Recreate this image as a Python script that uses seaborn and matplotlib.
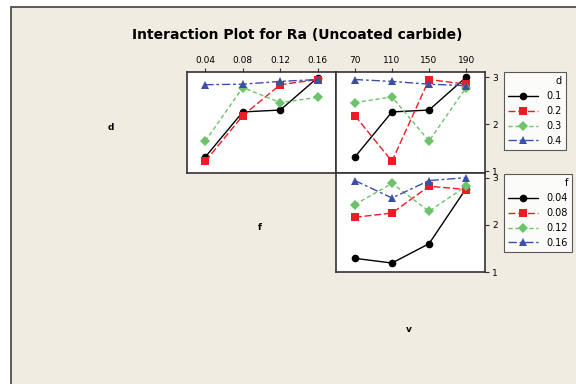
import pandas as pd
import seaborn as sns
import matplotlib.pyplot as plt
from matplotlib.patches import Rectangle

# levels of the factors
d_levels = ['0.1', '0.2', '0.3', '0.4']
f_levels = [0.04, 0.08, 0.12, 0.16]
v_levels = [70, 110, 150, 190]
f_names = ['0.04', '0.08', '0.12', '0.16']

# mean Ra, d (rows) vs f (columns)
ra_d_f = [[1.30, 2.26, 2.30, 2.99],
          [1.21, 2.18, 2.84, 2.95],
          [1.64, 2.78, 2.46, 2.57],
          [2.84, 2.85, 2.91, 2.95]]
# mean Ra, d (rows) vs v (columns)
ra_d_v = [[1.30, 2.26, 2.30, 3.00],
          [2.18, 1.21, 2.95, 2.85],
          [2.46, 2.58, 1.64, 2.78],
          [2.95, 2.91, 2.85, 2.82]]
# mean Ra, f (rows) vs v (columns)
ra_f_v = [[1.29, 1.19, 1.60, 2.77],
          [2.16, 2.25, 2.82, 2.75],
          [2.43, 2.88, 2.29, 2.82],
          [2.94, 2.57, 2.94, 3.00]]

colors = ['black', '#ED1C24', '#6CC36A', '#3B4FA6']
marks = ['o', 's', 'D', '^']
dash_list = ['', (5, 2), (3, 2), (6, 2, 2, 2)]


def long_table(values, xs, trace_names, xname, tname):
    rows = []
    for name, row in zip(trace_names, values):
        for x, y in zip(xs, row):
            rows.append({xname: x, tname: name, 'Ra': y})
    return pd.DataFrame(rows)


sns.set_style('white')
plt.rcParams['font.family'] = ['DejaVu Sans']
plt.rcParams['text.color'] = 'black'

fig = plt.figure(figsize=(5.76, 3.84), dpi=100, facecolor='white')
bg = Rectangle((10.5 / 576, -0.1), 1.2, 1.1 - 7.5 / 384,
               transform=fig.transFigure, facecolor='#F0ECE2',
               edgecolor='#404040', linewidth=1.2, zorder=-10)
fig.patches.append(bg)

W, H = 576, 384


def panel(x0, y0, x1, y1):
    ax = fig.add_axes([x0 / W, 1 - y1 / H, (x1 - x0) / W, (y1 - y0) / H])
    ax.set_facecolor('white')
    ax.set_zorder(1)
    for s in ax.spines.values():
        s.set_color('#333333')
        s.set_linewidth(1.2)
    return ax


def draw(ax, df, xname, tname, names):
    pal = dict(zip(names, colors))
    mk = dict(zip(names, marks))
    ds = dict(zip(names, dash_list))
    sns.lineplot(data=df, x=xname, y='Ra', hue=tname, style=tname,
                 hue_order=names, style_order=names, palette=pal,
                 markers=mk, dashes=ds, markersize=5.5, linewidth=1,
                 markeredgewidth=0, ax=ax)
    handles, labels = ax.get_legend_handles_labels()
    ax.get_legend().remove()
    ax.set_xlabel('')
    ax.set_ylabel('')
    return handles, labels


ax1 = panel(187, 72, 336, 173)
ax2 = panel(336, 72, 485, 173)
ax3 = panel(336, 173, 485, 272)

draw(ax1, long_table(ra_d_f, f_levels, d_levels, 'f', 'd'), 'f', 'd', d_levels)
h_d, l_d = draw(ax2, long_table(ra_d_v, v_levels, d_levels, 'v', 'd'), 'v', 'd', d_levels)
h_f, l_f = draw(ax3, long_table(ra_f_v, v_levels, f_names, 'v', 'f'), 'v', 'f', f_names)

ax1.set_xlim(0.0205, 0.1795)
ax2.set_xlim(49.6, 210.4)
ax3.set_xlim(49.6, 210.4)
for ax in (ax1, ax2):
    ax.set_ylim(0.96, 3.11)
ax3.set_ylim(1.0, 3.1)

ax1.xaxis.tick_top()
ax1.set_xticks(f_levels)
ax1.set_xticklabels(f_names)
ax1.set_yticks([])
ax2.xaxis.tick_top()
ax2.set_xticks(v_levels)
ax3.set_xticks([])
for ax in (ax2, ax3):
    ax.yaxis.tick_right()
    ax.set_yticks([1, 2, 3])
for ax in (ax1, ax2, ax3):
    ax.tick_params(length=3, width=0.8, labelsize=6.5, pad=2,
                   colors='#333333', labelcolor='black')

leg_kw = dict(loc='upper left', frameon=True, fontsize=7, title_fontsize=7,
              handlelength=3.0, handletextpad=0.9, alignment='right',
              borderpad=0.45, borderaxespad=0, labelspacing=0.5,
              fancybox=False, edgecolor='#333333')
lg1 = fig.legend(h_d, l_d, title='d', bbox_to_anchor=(504 / W, 1 - 72 / H), **leg_kw)
lg2 = fig.legend(h_f, l_f, title='f', bbox_to_anchor=(504 / W, 1 - 174 / H), **leg_kw)
for lg in (lg1, lg2):
    lg.get_frame().set_facecolor('white')
    lg.get_frame().set_linewidth(0.8)

fig.text(297 / W, 1 - 35 / H, 'Interaction Plot for Ra (Uncoated carbide)',
         ha='center', va='center', fontsize=10, fontweight='bold')
fig.text(111 / W, 1 - 127 / H, 'd', ha='center', va='center', fontsize=6.5, fontweight='bold')
fig.text(260 / W, 1 - 228 / H, 'f', ha='center', va='center', fontsize=6.5, fontweight='bold')
fig.text(409 / W, 1 - 329 / H, 'v', ha='center', va='center', fontsize=6.5, fontweight='bold')

fig.savefig('out.png', dpi=100, facecolor=fig.get_facecolor())
